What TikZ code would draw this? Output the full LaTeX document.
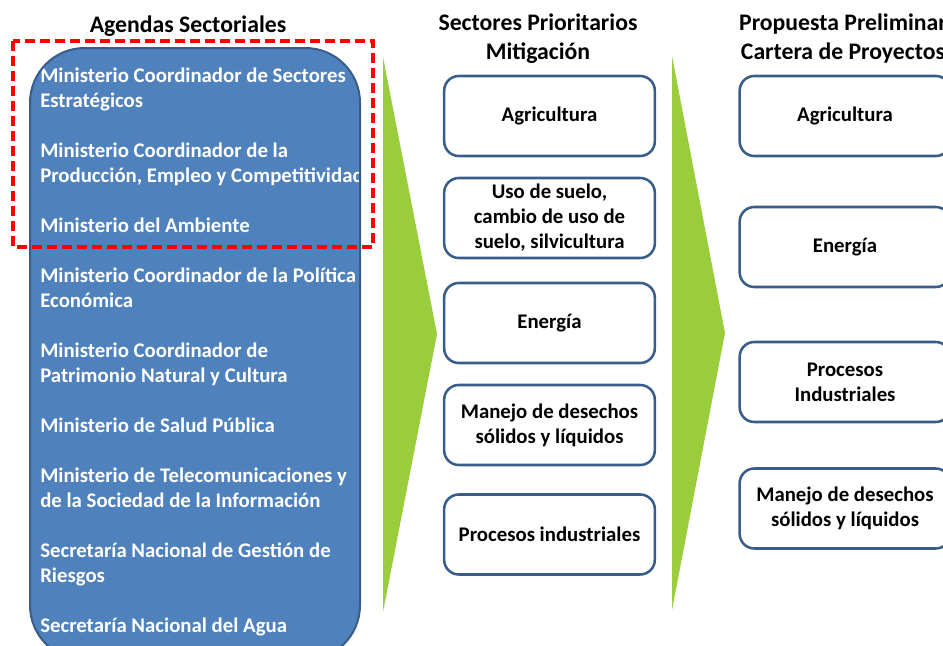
\documentclass[tikz,border=0pt]{standalone}
\usepackage{fontspec}
\setmainfont{Carlito}
\usepackage{tikz}
\usetikzlibrary{calc}
\definecolor{panelblue}{HTML}{4F81BD}
\definecolor{edgeblue}{HTML}{385D8A}
\definecolor{arrowgreen}{HTML}{9ACD3C}
\definecolor{markred}{HTML}{FF0000}
\tikzset{
  title/.style={text=black, font=\fontsize{17.8}{21.75}\selectfont\bfseries, align=center, inner sep=0pt},
  item/.style={text=white, font=\fontsize{15.6}{18.75}\selectfont\bfseries, align=left, anchor=base west, inner sep=0pt},
  sector/.style={draw=edgeblue, line width=1.9pt, fill=white, rounded corners=11pt,
    minimum width=158pt, minimum height=60pt, align=center,
    font=\fontsize{15.6}{18.75}\selectfont\bfseries},
  chevron/.style={fill=arrowgreen},
  redmark/.style={draw=markred, line width=2.3pt, dash pattern=on 7.5pt off 3.75pt},
}
\begin{document}
\begin{tikzpicture}[x=0.75pt, y=-0.75pt]
  \useasboundingbox (0,0) rectangle (943,646);
  \clip (0,0) rectangle (943,646);
  % titles
  \node[title] (t1) at (188,26) {Agendas Sectoriales};
  \node[title] (t2) at (538,39) {Sectores Prioritarios\\Mitigación};
  \node[title] (t3) at (843,39) {Propuesta Preliminar\\Cartera de Proyectos};
  % agendas panel (base = last line)
  \begin{scope}
    \clip[rounded corners=41pt] (30,48) rectangle (360,660);
    \fill[panelblue] (30,48) rectangle (360,660);
    \node[item] (a1) at (40,107) {Ministerio Coordinador de Sectores\\Estratégicos};
    \node[item] (a2) at (40,182) {Ministerio Coordinador de la\\Producción, Empleo y Competitividad};
    \node[item] (a3) at (40,232) {Ministerio del Ambiente};
    \node[item] (a4) at (40,307) {Ministerio Coordinador de la Política\\Económica};
    \node[item] (a5) at (40,382) {Ministerio Coordinador de\\Patrimonio Natural y Cultura};
    \node[item] (a6) at (40,432) {Ministerio de Salud Pública};
    \node[item] (a7) at (40,507) {Ministerio de Telecomunicaciones y\\de la Sociedad de la Información};
    \node[item] (a8) at (40,582) {Secretaría Nacional de Gestión de\\Riesgos};
    \node[item] (a9) at (40,632) {Secretaría Nacional del Agua};
  \end{scope}
  \draw[edgeblue, line width=1.5pt, rounded corners=41pt] (30,48) rectangle (360,660);
  \draw[redmark] (13,41) rectangle (373,247);
  % arrows
  \fill[chevron] (383,57) -- (437,334) -- (383,612) -- cycle;
  \fill[chevron] (672,56) -- (725,333) -- (672,610) -- cycle;
  % sectores prioritarios
  \node[sector] (s1) at (549.5,116) {Agricultura};
  \node[sector] (s2) at (549.5,218) {Uso de suelo,\\cambio de uso de\\suelo, silvicultura};
  \node[sector] (s3) at (549.5,323) {Energía};
  \node[sector] (s4) at (549.5,425) {Manejo de desechos\\sólidos y líquidos};
  \node[sector] (s5) at (549.5,534.5) {Procesos industriales};
  % cartera de proyectos
  \node[sector] (p1) at (845,116) {Agricultura};
  \node[sector] (p2) at (845,247) {Energía};
  \node[sector] (p3) at (845,382) {Procesos\\Industriales};
  \node[sector] (p4) at (845,508.5) {Manejo de desechos\\sólidos y líquidos};
\end{tikzpicture}
\end{document}
